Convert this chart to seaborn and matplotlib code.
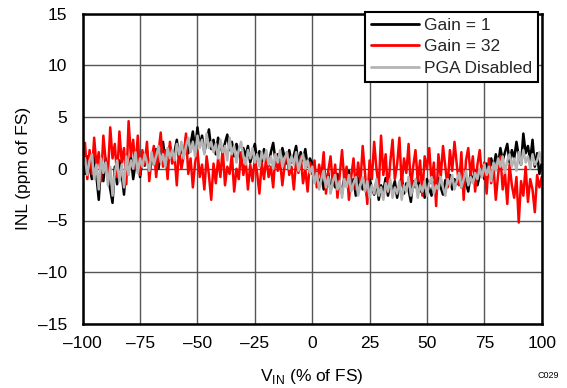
import numpy as np
import pandas as pd
import matplotlib
matplotlib.use("Agg")
import matplotlib.pyplot as plt
import seaborn as sns

vin = list(range(-100, 101))

gain1 = [0.8, -0.5, 1.2, 0.2, -1.0, 1.5, -0.8, -3.0, 0.5, -1.2,
         1.0, -0.6, -2.0, -3.3, 0.2, -1.5, 0.8, -0.5, -2.5, 0.6,
         -0.3, 1.2, -1.0, 0.5, 1.5, -0.8, 0.9, 0.3, 1.8, -0.2,
         1.1, 0.4, 1.9, 0.0, 1.4, 2.6, 0.6, 1.5, 2.2, 0.8,
         1.6, 2.8, 1.0, 2.0, 1.2, 3.0, 1.5, 2.4, 3.6, 1.8,
         4.0, 2.2, 3.2, 1.6, 2.6, 3.8, 1.9, 2.8, 1.4, 3.0,
         2.2, 1.5, 2.5, 3.3, 1.8, 2.6, 1.2, 2.4, 1.6, 0.8,
         2.0, 1.2, 2.2, 0.6, 1.5, 2.4, 0.8, 1.7, 0.5, 1.9,
         1.0, 0.3, 1.6, 2.5, 0.8, 1.4, 0.2, 2.0, 1.1, 0.5,
         1.8, 0.6, 1.3, 2.2, 0.4, 1.6, 0.8, 1.9, 0.2, 1.0,
         0.5,
         -1.0, -0.3, -1.8, -0.6, -2.0, -1.2, -0.4, -2.2, -1.0, -1.8,
         -0.5, -1.5, -2.4, -0.8, -1.6, -0.2, -1.9, -1.0, -2.6, -1.2,
         -0.6, -2.0, -1.4, -2.8, -1.0, -1.8, -2.5, -1.2, -3.0, -1.6,
         -2.2, -0.9, -2.6, -1.5, -2.0, -1.2, -2.8, -1.6, -0.8, -2.4,
         -1.4, -2.0, -3.2, -1.2, -1.8, -0.8, -2.2, -1.5, -2.8, -1.0,
         -1.9, -2.6, -1.3, -2.0, -0.9, -1.8, -2.5, -1.1, -1.7, -0.6,
         -2.0, -1.0, -1.5, -0.4, -1.8, -0.8, -1.4, -2.2, -0.5, -1.2,
         -0.2, -1.6, -0.6, 0.2, -1.0, 0.5, -0.3, 1.0, 0.0, 1.4,
         0.4, 2.0, 0.8, 1.6, 2.4, 0.6, 1.8, 1.0, 2.6, 1.2,
         0.4, 3.4, 1.5, 2.2, 0.8, 2.8, 0.2, 1.5, -0.5, 0.5]

gain32 = [0.5, 2.5, -1.0, 1.8, -0.5, 3.0, 0.2, 1.6, -1.2, 3.2,
          0.8, -0.4, 4.0, 1.0, 2.4, -0.8, 3.6, 0.6, 2.0, -1.5,
          4.6, 1.2, 2.8, 0.0, 3.2, -0.6, 1.8, 0.4, 2.6, -1.2,
          1.0, 2.2, -0.8, 1.5, 3.5, 0.2, 1.8, -1.0, 2.6, 0.5,
          1.4, -1.6, 2.0, 0.0, 1.2, 3.4, -0.5, 1.0, -1.8, 0.6,
          1.8, -0.8, 0.4, -2.0, 1.2, -0.6, -3.0, 0.5, -1.4, 1.0,
          -0.8, 2.0, -1.6, 0.2, -0.5, 1.4, -2.2, 0.0, -1.0, 1.6,
          -0.6, 0.8, -2.0, 0.4, -1.2, 1.0, -0.4, -2.4, 0.6, -1.0,
          1.2, -0.8, 0.2, -1.8, 1.4, -0.2, 0.8, -1.6, 0.4, 1.6,
          -0.6, 0.2, -2.0, 0.8, -0.4, 1.2, -1.4, 0.0, -2.2, 0.6,
          -0.5,
          0.8, -1.8, 0.4, -0.8, 1.6, -2.4, -0.2, 1.2, -1.6, 0.4,
          -2.8, -0.6, 1.8, -1.2, 0.2, -3.0, -0.8, 1.0, -2.0, 0.6,
          -1.4, 2.2, -0.4, -3.4, 0.8, -1.0, 2.6, 0.0, -1.8, 3.2,
          -0.6, 1.4, -2.2, 0.6, 2.8, -1.0, 0.4, 3.0, -1.6, 1.0,
          -0.4, 2.4, -2.0, 0.2, 1.8, -1.2, 0.8, -2.6, 1.2, 0.0,
          2.0, -1.4, 0.6, -3.6, 1.4, -0.8, 2.2, 0.2, -1.8, 1.8,
          -0.2, 2.6, 0.4, -1.6, 1.6, -3.0, 0.8, 2.0, -0.6, 1.2,
          -2.2, 0.4, 1.8, -0.8, 0.6, -2.4, 1.0, -1.4, 0.2, -3.0,
          -0.6, 1.2, -2.0, -0.4, -3.4, 0.4, -1.6, -2.8, -0.8, -5.2,
          -1.2, -2.6, 0.2, -3.2, -1.0, -2.0, -4.2, -0.6, -1.8, -0.8]

pga_off = [0.2, 1.0, -0.6, 0.8, 1.4, -1.0, 0.4, -2.0, 1.0, -0.4,
           0.6, -1.6, 0.2, -2.6, -0.4, 0.8, -1.2, 0.4, -1.8, 1.2,
           -0.6, 0.8, 0.0, 1.6, -0.4, 1.0, 0.2, 1.4, 0.6, -0.2,
           1.6, 0.4, 1.2, 2.2, 0.6, 1.4, 0.2, 2.0, 1.0, 1.8,
           0.8, 2.4, 1.4, 2.6, 1.0, 2.2, 3.0, 1.6, 2.6, 1.2,
           3.2, 2.0, 2.8, 1.4, 3.4, 2.0, 2.6, 1.6, 2.4, 1.0,
           2.8, 1.6, 2.2, 0.8, 3.0, 1.4, 2.2, 0.6, 1.8, 2.6,
           1.2, 0.4, 1.8, 1.0, 2.0, 0.6, 1.4, 0.2, 1.6, 0.8,
           1.8, 0.4, 1.2, 0.0, 1.4, 0.6, 1.8, 0.2, 1.0, 1.6,
           0.0, 1.2, 0.4, 1.6, -0.2, 0.8, 1.4, 0.0, 0.8, -0.4,
           0.2,
           -1.4, -0.4, -2.0, -1.0, -0.2, -1.8, -0.8, -2.4, -1.2, -0.6,
           -2.0, -1.2, -2.8, -1.0, -1.8, -0.6, -2.2, -1.4, -0.8, -2.6,
           -1.6, -0.8, -2.2, -1.2, -2.8, -1.6, -2.4, -1.0, -2.6, -1.8,
           -3.0, -1.4, -2.2, -1.0, -2.8, -1.8, -2.4, -1.2, -3.0, -1.6,
           -2.2, -0.8, -2.6, -1.8, -1.0, -2.8, -1.6, -2.2, -1.2, -2.6,
           -1.4, -0.8, -2.4, -1.6, -2.0, -0.8, -1.8, -2.6, -1.0, -1.6,
           -0.6, -2.0, -1.2, -0.4, -1.8, -1.0, -0.2, -1.6, -0.8, -1.4,
           -0.4, -1.0, 0.0, -0.8, 0.4, -0.6, 0.2, -1.2, 0.6, -0.2,
           1.0, 0.2, 1.2, -0.4, 0.8, 1.4, 0.2, 1.0, -0.2, 1.6,
           0.4, 1.8, 0.6, 1.2, 0.0, 1.4, 0.4, 0.8, 1.6, 0.6]

series_names = ["Gain = 1", "Gain = 32", "PGA Disabled"]
series_colors = ["#000000", "#ff0000", "#b4b4b4"]
x_ticks = [-100, -75, -50, -25, 0, 25, 50, 75, 100]
y_ticks = [-15, -10, -5, 0, 5, 10, 15]

df = pd.DataFrame({
    "vin": vin * 3,
    "inl": gain1 + gain32 + pga_off,
    "series": [series_names[0]] * len(vin) + [series_names[1]] * len(vin) + [series_names[2]] * len(vin),
})

sns.set_theme(style="white")
plt.rcParams["font.family"] = ["Liberation Sans", "DejaVu Sans"]

W, H = 567, 388
fig = plt.figure(figsize=(W / 100, H / 100), dpi=100)
ax = fig.add_axes([82.7 / W, 1 - 324 / H, (541.7 - 82.7) / W, (324 - 13.5) / H])

sns.lineplot(data=df, x="vin", y="inl", hue="series", hue_order=series_names,
             palette=series_colors, linewidth=1.8, ax=ax, estimator=None,
             sort=False)

fs = 12.5
ax.set_xlim(-100, 100)
ax.set_ylim(-15, 15)
ax.set_xticks(x_ticks)
ax.set_yticks(y_ticks)
ax.set_xticklabels([str(t).replace("-", "\u2013") for t in x_ticks])
ax.set_yticklabels([str(t).replace("-", "\u2013") for t in y_ticks])
ax.tick_params(axis="x", length=0, labelsize=fs, colors="black", pad=9)
ax.tick_params(axis="y", length=0, labelsize=fs, colors="black", pad=11)
ax.grid(True, color="#555555", linewidth=1.0)
ax.set_axisbelow(True)
for s in ax.spines.values():
    s.set_visible(True)
    s.set_color("black")
    s.set_linewidth(1.8)

ax.set_xlabel("V$_{\\mathregular{IN}}$ (% of FS)", fontsize=fs, color="black", labelpad=11)
ax.set_ylabel("INL (ppm of FS)", fontsize=fs, color="black", labelpad=5)

leg = ax.legend(loc="upper right", bbox_to_anchor=(538 / W, 1 - 12 / H),
                bbox_transform=fig.transFigure, fontsize=fs, frameon=True,
                fancybox=False, borderaxespad=0.0, handlelength=2.8,
                handletextpad=0.3, labelspacing=0.38, borderpad=0.32)
leg.get_frame().set_edgecolor("black")
leg.get_frame().set_linewidth(1.5)
leg.get_frame().set_alpha(1.0)
for line in leg.get_lines():
    line.set_linewidth(2.0)

fig.text(559 / W, 1 - 380 / H, "C029", fontsize=6.5, ha="right", va="bottom", color="black")

fig.savefig("out.png", dpi=100)
